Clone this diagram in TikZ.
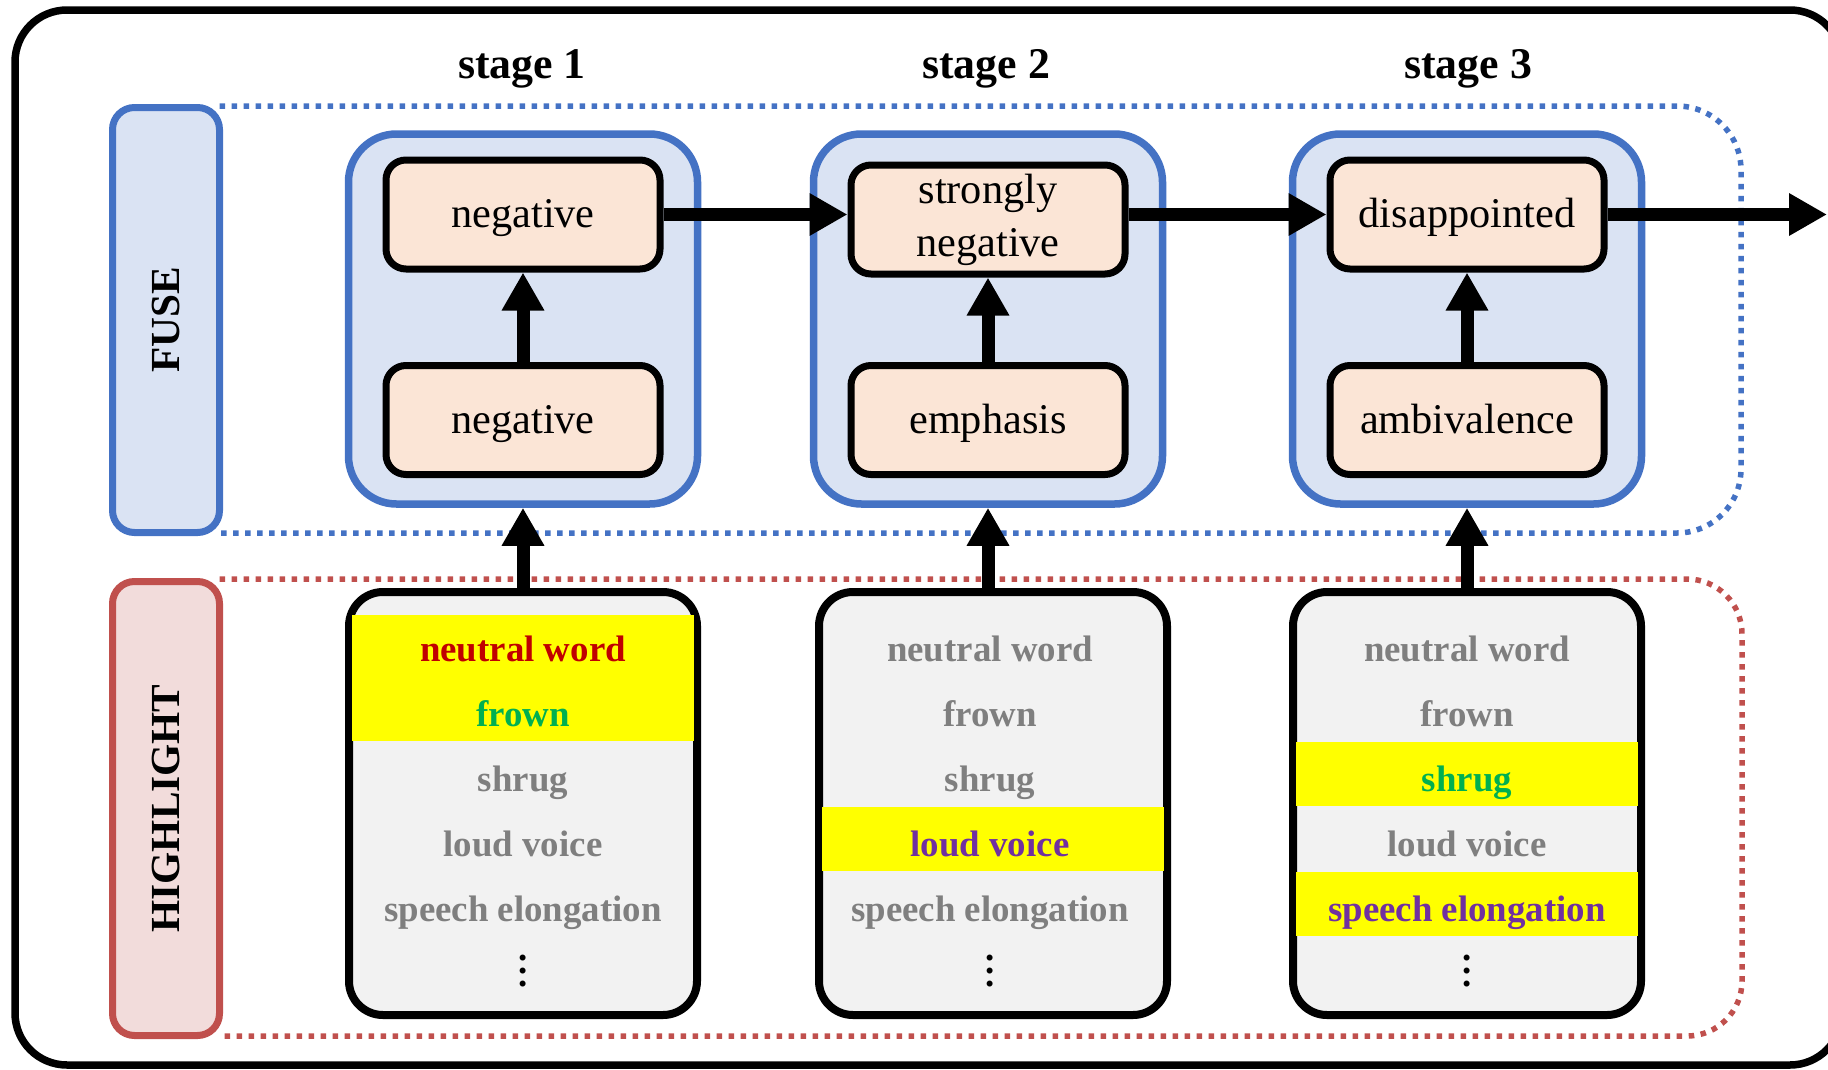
\documentclass[tikz,border=0pt]{standalone}
\usepackage{fontspec}
\setmainfont{Liberation Serif}
\usetikzlibrary{arrows.meta}

\definecolor{fuseblue}{HTML}{4472C4}
\definecolor{fusefill}{HTML}{DAE3F3}
\definecolor{peach}{HTML}{FBE5D6}
\definecolor{hlred}{HTML}{C0504D}
\definecolor{hlfill}{HTML}{F2DCDB}
\definecolor{cardgray}{HTML}{F2F2F2}
\definecolor{mutedtext}{HTML}{7F7F7F}
\definecolor{cuered}{HTML}{C00000}
\definecolor{cuegreen}{HTML}{00B050}
\definecolor{cuepurple}{HTML}{7030A0}
\definecolor{marker}{HTML}{FFFF00}

\tikzset{
  frame/.style={draw=black, line width=7.5bp, rounded corners=52bp},
  % rotated side bars: width runs along the text, i.e. vertically
  sidebar/.style={line width=7bp, rounded corners=22bp, minimum height=107bp,
    inner sep=0pt, font=\fontsize{41.5pt}{48pt}\selectfont\bfseries, rotate=90},
  dotblue/.style={draw=fuseblue, line width=5.5bp, dash pattern=on 5.5bp off 6.5bp, rounded corners=64bp},
  dotred/.style={draw=hlred, line width=5.5bp, dash pattern=on 5.5bp off 6.5bp, rounded corners=55bp},
  stagebox/.style={draw=fuseblue, fill=fusefill, line width=7.5bp, rounded corners=48bp,
    minimum width=349bp, minimum height=370bp, inner sep=0pt},
  emobox/.style={draw=black, fill=peach, line width=7bp, rounded corners=20bp,
    minimum width=274bp, minimum height=109bp, inner sep=0pt,
    font=\fontsize{42.5pt}{53pt}\selectfont, align=center},
  oneline/.style={text height=32bp, text depth=6bp},
  card/.style={draw=black, fill=cardgray, line width=8bp, rounded corners=34bp,
    minimum width=348bp, minimum height=423bp, inner sep=0pt},
  cue/.style={anchor=base, inner sep=0pt, font=\fontsize{37pt}{44pt}\selectfont\bfseries},
  vdotsnode/.style={inner sep=0pt, align=center, font=\fontsize{37pt}{12.7pt}\selectfont\bfseries},
  stagelabel/.style={anchor=base, inner sep=0pt, font=\fontsize{44pt}{52pt}\selectfont\bfseries},
  flow/.style={draw=black, line width=13bp, -{Triangle[length=38bp,width=40bp]}},
}

\begin{document}
\begin{tikzpicture}[x=1bp, y=-1bp]
\useasboundingbox (0,0) rectangle (1828,1069);
\clip (0,0) rectangle (1828,1069);

% outer frame
\draw[frame] (15,10) rectangle (1842,1065);

% stage headings
\node[stagelabel] (h1) at (522,78) {stage 1};
\node[stagelabel] (h2) at (986,78) {stage 2};
\node[stagelabel] (h3) at (1468,78) {stage 3};

% dotted band outlines
\draw[dotblue] (219.5,106) -- (1741,106) -- (1741,533) -- (219.5,533);
\draw[dotred] (219.5,579) -- (1742,579) -- (1742,1036) -- (219.5,1036);

% side bars
\node[sidebar, draw=fuseblue, fill=fusefill, minimum width=425bp] (fuse) at (166,320) {FUSE};
\node[sidebar, draw=hlred, fill=hlfill, minimum width=454bp] (highlight) at (166,808.5) {HIGHLIGHT};

% fuse stages
\node[stagebox] (s1) at (523,319) {};
\node[stagebox] (s2) at (988,319) {};
\node[stagebox] (s3) at (1467,319) {};

\node[emobox, oneline] (o1t) at (523,214.5) {negative};
\node[emobox, oneline] (o1b) at (523,420) {negative};
\node[emobox] (o2t) at (988,219.5) {strongly\\negative};
\node[emobox, oneline] (o2b) at (988,420) {emphasis};
\node[emobox, oneline] (o3t) at (1467,214.5) {disappointed};
\node[emobox, oneline] (o3b) at (1467,420) {ambivalence};

% highlight cards
\node[card] (g1) at (523,803.5) {};
\node[card] (g2) at (993,803.5) {};
\node[card] (g3) at (1467,803.5) {};

% marked rows
\fill[marker] (352,615) rectangle (694,741);
\fill[marker] (822,806.5) rectangle (1164,871);
\fill[marker] (1296,741.5) rectangle (1638,806);
\fill[marker] (1296,871.5) rectangle (1638,936);

% card 1
\node[cue, cuered] (c1a) at (523,661) {neutral word};
\node[cue, cuegreen] (c1b) at (523,726) {frown};
\node[cue, mutedtext] (c1c) at (523,791) {shrug};
\node[cue, mutedtext] (c1d) at (523,856) {loud voice};
\node[cue, mutedtext] (c1e) at (523,921) {speech elongation};
\node[vdotsnode] (c1f) at (523,971) {.\\.\\.};

% card 2
\node[cue, mutedtext] (c2a) at (990,661) {neutral word};
\node[cue, mutedtext] (c2b) at (990,726) {frown};
\node[cue, mutedtext] (c2c) at (990,791) {shrug};
\node[cue, cuepurple] (c2d) at (990,856) {loud voice};
\node[cue, mutedtext] (c2e) at (990,921) {speech elongation};
\node[vdotsnode] (c2f) at (990,971) {.\\.\\.};

% card 3
\node[cue, mutedtext] (c3a) at (1467,661) {neutral word};
\node[cue, mutedtext] (c3b) at (1467,726) {frown};
\node[cue, cuegreen] (c3c) at (1467,791) {shrug};
\node[cue, mutedtext] (c3d) at (1467,856) {loud voice};
\node[cue, cuepurple] (c3e) at (1467,921) {speech elongation};
\node[vdotsnode] (c3f) at (1467,971) {.\\.\\.};

% connectors
\coordinate (exit) at (1827,214.5);
\draw[flow] (o1t.east) -- (o2t.west |- o1t.east);
\draw[flow] (o2t.east |- o3t.west) -- (o3t.west);
\draw[flow] (o3t.east) -- (exit);

\draw[flow] (o1b.north) -- (o1t.south);
\draw[flow] (o2b.north) -- (o2t.south);
\draw[flow] (o3b.north) -- (o3t.south);

\draw[flow] (g1.north) -- (s1.south);
\draw[flow] (s2.south |- g2.north) -- (s2.south);
\draw[flow] (g3.north) -- (s3.south);
\end{tikzpicture}
\end{document}
